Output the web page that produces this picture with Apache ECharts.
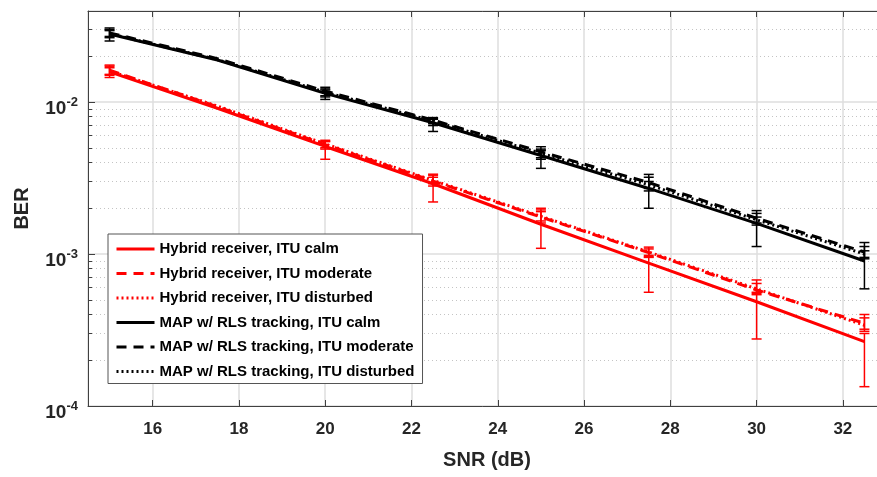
<!DOCTYPE html>
<html>
<head>
<meta charset="utf-8">
<script src="https://cdn.jsdelivr.net/npm/echarts@6/dist/echarts.min.js"></script>
<style>
  html, body { margin: 0; padding: 0; background: #fff; }
  #chart { width: 877px; height: 477px; }
</style>
</head>
<body>
<div id="chart"></div>
<script>
const fontFamily = 'Liberation Sans, Arial, Helvetica, sans-serif';

// SNR (dB) sample points of the BER curves
const snr = [15, 17.5, 20, 22.5, 25, 27.5, 30, 32.5];

const hybridCalm = [0.0158, 0.0091, 5.1e-3, 2.9e-3, 1.57e-3, 8.7e-4, 4.85e-4, 2.65e-4];
const hybridModerate = [0.0162, 0.0093, 5.25e-3, 3.02e-3, 1.75e-3, 1.02e-3, 5.8e-4, 3.5e-4];
const hybridDisturbed = [0.0160, 0.0094, 5.3e-3, 3.05e-3, 1.77e-3, 1.03e-3, 5.9e-4, 3.4e-4];
const mapCalm = [0.0280, 0.0189, 0.0114, 7.3e-3, 4.45e-3, 2.7e-3, 1.59e-3, 9.0e-4];
const mapModerate = [0.0285, 0.0193, 0.0118, 7.6e-3, 4.7e-3, 2.95e-3, 1.72e-3, 1.03e-3];
const mapDisturbed = [0.0282, 0.0190, 0.0116, 7.5e-3, 4.6e-3, 2.85e-3, 1.68e-3, 1.0e-3];

// error bars (lower / upper BER)
const errSnr = [15, 20, 22.5, 25, 27.5, 30, 32.5];
const hybridCalmLow = [0.0145, 4.2e-3, 2.2e-3, 1.09e-3, 5.6e-4, 2.76e-4, 1.34e-4];
const hybridCalmHigh = [0.0172, 5.6e-3, 3.35e-3, 2.0e-3, 9.5e-4, 5.5e-4, 3.0e-4];
const hybridModerateLow = [0.0150, 4.9e-3, 2.8e-3, 1.6e-3, 9.6e-4, 5.4e-4, 3.2e-4];
const hybridModerateHigh = [0.0175, 5.5e-3, 3.3e-3, 1.95e-3, 1.11e-3, 6.75e-4, 4.0e-4];
const hybridDisturbedLow = [0.0152, 5.0e-3, 2.9e-3, 1.65e-3, 9.8e-4, 5.6e-4, 3.1e-4];
const hybridDisturbedHigh = [0.0168, 5.5e-3, 3.2e-3, 1.9e-3, 1.08e-3, 6.4e-4, 3.8e-4];
const mapCalmLow = [0.0252, 0.0104, 6.4e-3, 3.66e-3, 2.0e-3, 1.12e-3, 5.9e-4];
const mapCalmHigh = [0.0295, 0.0120, 7.7e-3, 4.8e-3, 3.0e-3, 1.75e-3, 1.05e-3];
const mapModerateLow = [0.0265, 0.0110, 7.2e-3, 4.3e-3, 2.7e-3, 1.6e-3, 9.5e-4];
const mapModerateHigh = [0.0307, 0.0125, 7.9e-3, 5.08e-3, 3.34e-3, 1.93e-3, 1.19e-3];
const mapDisturbedLow = [0.0270, 0.0108, 7.0e-3, 4.2e-3, 2.6e-3, 1.55e-3, 9.3e-4];
const mapDisturbedHigh = [0.0300, 0.0122, 7.8e-3, 4.9e-3, 3.2e-3, 1.85e-3, 1.12e-3];

const seriesNames = [
  'Hybrid receiver, ITU calm',
  'Hybrid receiver, ITU moderate',
  'Hybrid receiver, ITU disturbed',
  'MAP w/ RLS tracking, ITU calm',
  'MAP w/ RLS tracking, ITU moderate',
  'MAP w/ RLS tracking, ITU disturbed',
];

const xMin = 14.5;
const xMax = 33;
const yMin = 1e-4;
const yMax = 0.0397;

const axisColor = '#404040';
const textColor = '#262626';

const lineSeries = (name, values, color, type) => ({
  name: name,
  type: 'line',
  data: snr.map((s, i) => [s, values[i]]),
  symbol: 'none',
  z: 3,
  lineStyle: { color: color, width: 3, type: type },
  itemStyle: { color: color },
});

const errSeries = (low, high, color) => ({
  type: 'custom',
  z: 4,
  silent: true,
  encode: { x: 0, y: [1, 2] },
  data: errSnr.map((s, i) => [s, low[i], high[i]]),
  renderItem: (params, api) => {
    const x = api.value(0);
    const lo = api.coord([x, api.value(1)]);
    const hi = api.coord([x, api.value(2)]);
    const w = 5;
    const style = { stroke: color, lineWidth: 1.5 };
    return {
      type: 'group',
      children: [
        { type: 'line', shape: { x1: lo[0], y1: lo[1], x2: hi[0], y2: hi[1] }, style: style },
        { type: 'line', shape: { x1: lo[0] - w, y1: lo[1], x2: lo[0] + w, y2: lo[1] }, style: style },
        { type: 'line', shape: { x1: hi[0] - w, y1: hi[1], x2: hi[0] + w, y2: hi[1] }, style: style },
      ],
    };
  },
});

const chart = echarts.init(document.getElementById('chart'));

chart.setOption({
  animation: false,
  backgroundColor: '#fff',
  textStyle: { fontFamily: fontFamily },
  grid: {
    left: 88,
    right: -9,
    top: 11,
    bottom: 71,
    outerBoundsMode: 'none',
  },
  legend: {
    data: seriesNames,
    orient: 'vertical',
    left: 108,
    top: 234,
    padding: [6, 8, 3, 7],
    itemGap: 6.5,
    itemWidth: 38,
    itemHeight: 14,
    backgroundColor: '#fff',
    borderColor: '#555',
    borderWidth: 1,
    borderRadius: 0,
    itemStyle: { color: 'rgba(0,0,0,0)', borderWidth: 0 },
    lineStyle: { width: 3 },
    textStyle: {
      fontFamily: fontFamily,
      fontSize: 15,
      fontWeight: 'bold',
      color: '#000',
      lineHeight: 18,
    },
  },
  xAxis: [
    {
      type: 'value',
      min: xMin,
      max: xMax,
      splitNumber: 9,
      name: 'SNR (dB)',
      nameLocation: 'middle',
      nameGap: 44,
      nameTextStyle: { fontFamily: fontFamily, fontSize: 20, fontWeight: 'bold', color: textColor },
      axisLine: { show: true, lineStyle: { color: axisColor, width: 1 } },
      axisTick: { show: true, inside: true, length: 6, lineStyle: { color: axisColor } },
      axisLabel: {
        margin: 15,
        fontFamily: fontFamily,
        fontSize: 17,
        fontWeight: 'bold',
        color: textColor,
        showMinLabel: false,
        showMaxLabel: false,
        formatter: (v) => (v % 2 === 0 ? String(v) : ''),
      },
      splitLine: { show: true, lineStyle: { color: '#dedede', width: 1.5 } },
    },
    {
      type: 'value',
      position: 'top',
      min: xMin,
      max: xMax,
      splitNumber: 9,
      axisLine: { show: true, lineStyle: { color: axisColor, width: 1 } },
      axisTick: { show: true, inside: true, length: 6, lineStyle: { color: axisColor } },
      axisLabel: { show: false },
      splitLine: { show: false },
    },
  ],
  yAxis: {
    type: 'log',
    logBase: 10,
    min: yMin,
    max: yMax,
    name: 'BER',
    nameLocation: 'middle',
    nameGap: 56,
    nameTextStyle: { fontFamily: fontFamily, fontSize: 20, fontWeight: 'bold', color: textColor },
    axisLine: { show: true, lineStyle: { color: axisColor, width: 1 } },
    axisTick: { show: true, inside: true, length: 7, lineStyle: { color: axisColor } },
    minorTick: { show: true, splitNumber: 9, length: 4, lineStyle: { color: axisColor } },
    minorSplitLine: { show: true, lineStyle: { color: '#c4c4c4', width: 1, type: [1, 3] } },
    axisLabel: {
      margin: 10,
      showMaxLabel: false,
      formatter: (v) => '{b|10}{s|' + Math.round(Math.log10(v)) + '}',
      rich: {
        b: { fontFamily: fontFamily, fontSize: 19, fontWeight: 'bold', color: textColor, lineHeight: 20, verticalAlign: 'bottom' },
        s: { fontFamily: fontFamily, fontSize: 13, fontWeight: 'bold', color: textColor, lineHeight: 33, verticalAlign: 'middle' },
      },
    },
    splitLine: { show: true, lineStyle: { color: '#dedede', width: 1.5 } },
  },
  series: [
    lineSeries(seriesNames[0], hybridCalm, '#ff0000', 'solid'),
    lineSeries(seriesNames[1], hybridModerate, '#ff0000', [10, 7]),
    lineSeries(seriesNames[2], hybridDisturbed, '#ff0000', [2, 3]),
    lineSeries(seriesNames[3], mapCalm, '#000000', 'solid'),
    lineSeries(seriesNames[4], mapModerate, '#000000', [10, 7]),
    lineSeries(seriesNames[5], mapDisturbed, '#000000', [2, 3]),
    errSeries(hybridCalmLow, hybridCalmHigh, '#ff0000'),
    errSeries(hybridModerateLow, hybridModerateHigh, '#ff0000'),
    errSeries(hybridDisturbedLow, hybridDisturbedHigh, '#ff0000'),
    errSeries(mapCalmLow, mapCalmHigh, '#000000'),
    errSeries(mapModerateLow, mapModerateHigh, '#000000'),
    errSeries(mapDisturbedLow, mapDisturbedHigh, '#000000'),
  ],
});
</script>
</body>
</html>
